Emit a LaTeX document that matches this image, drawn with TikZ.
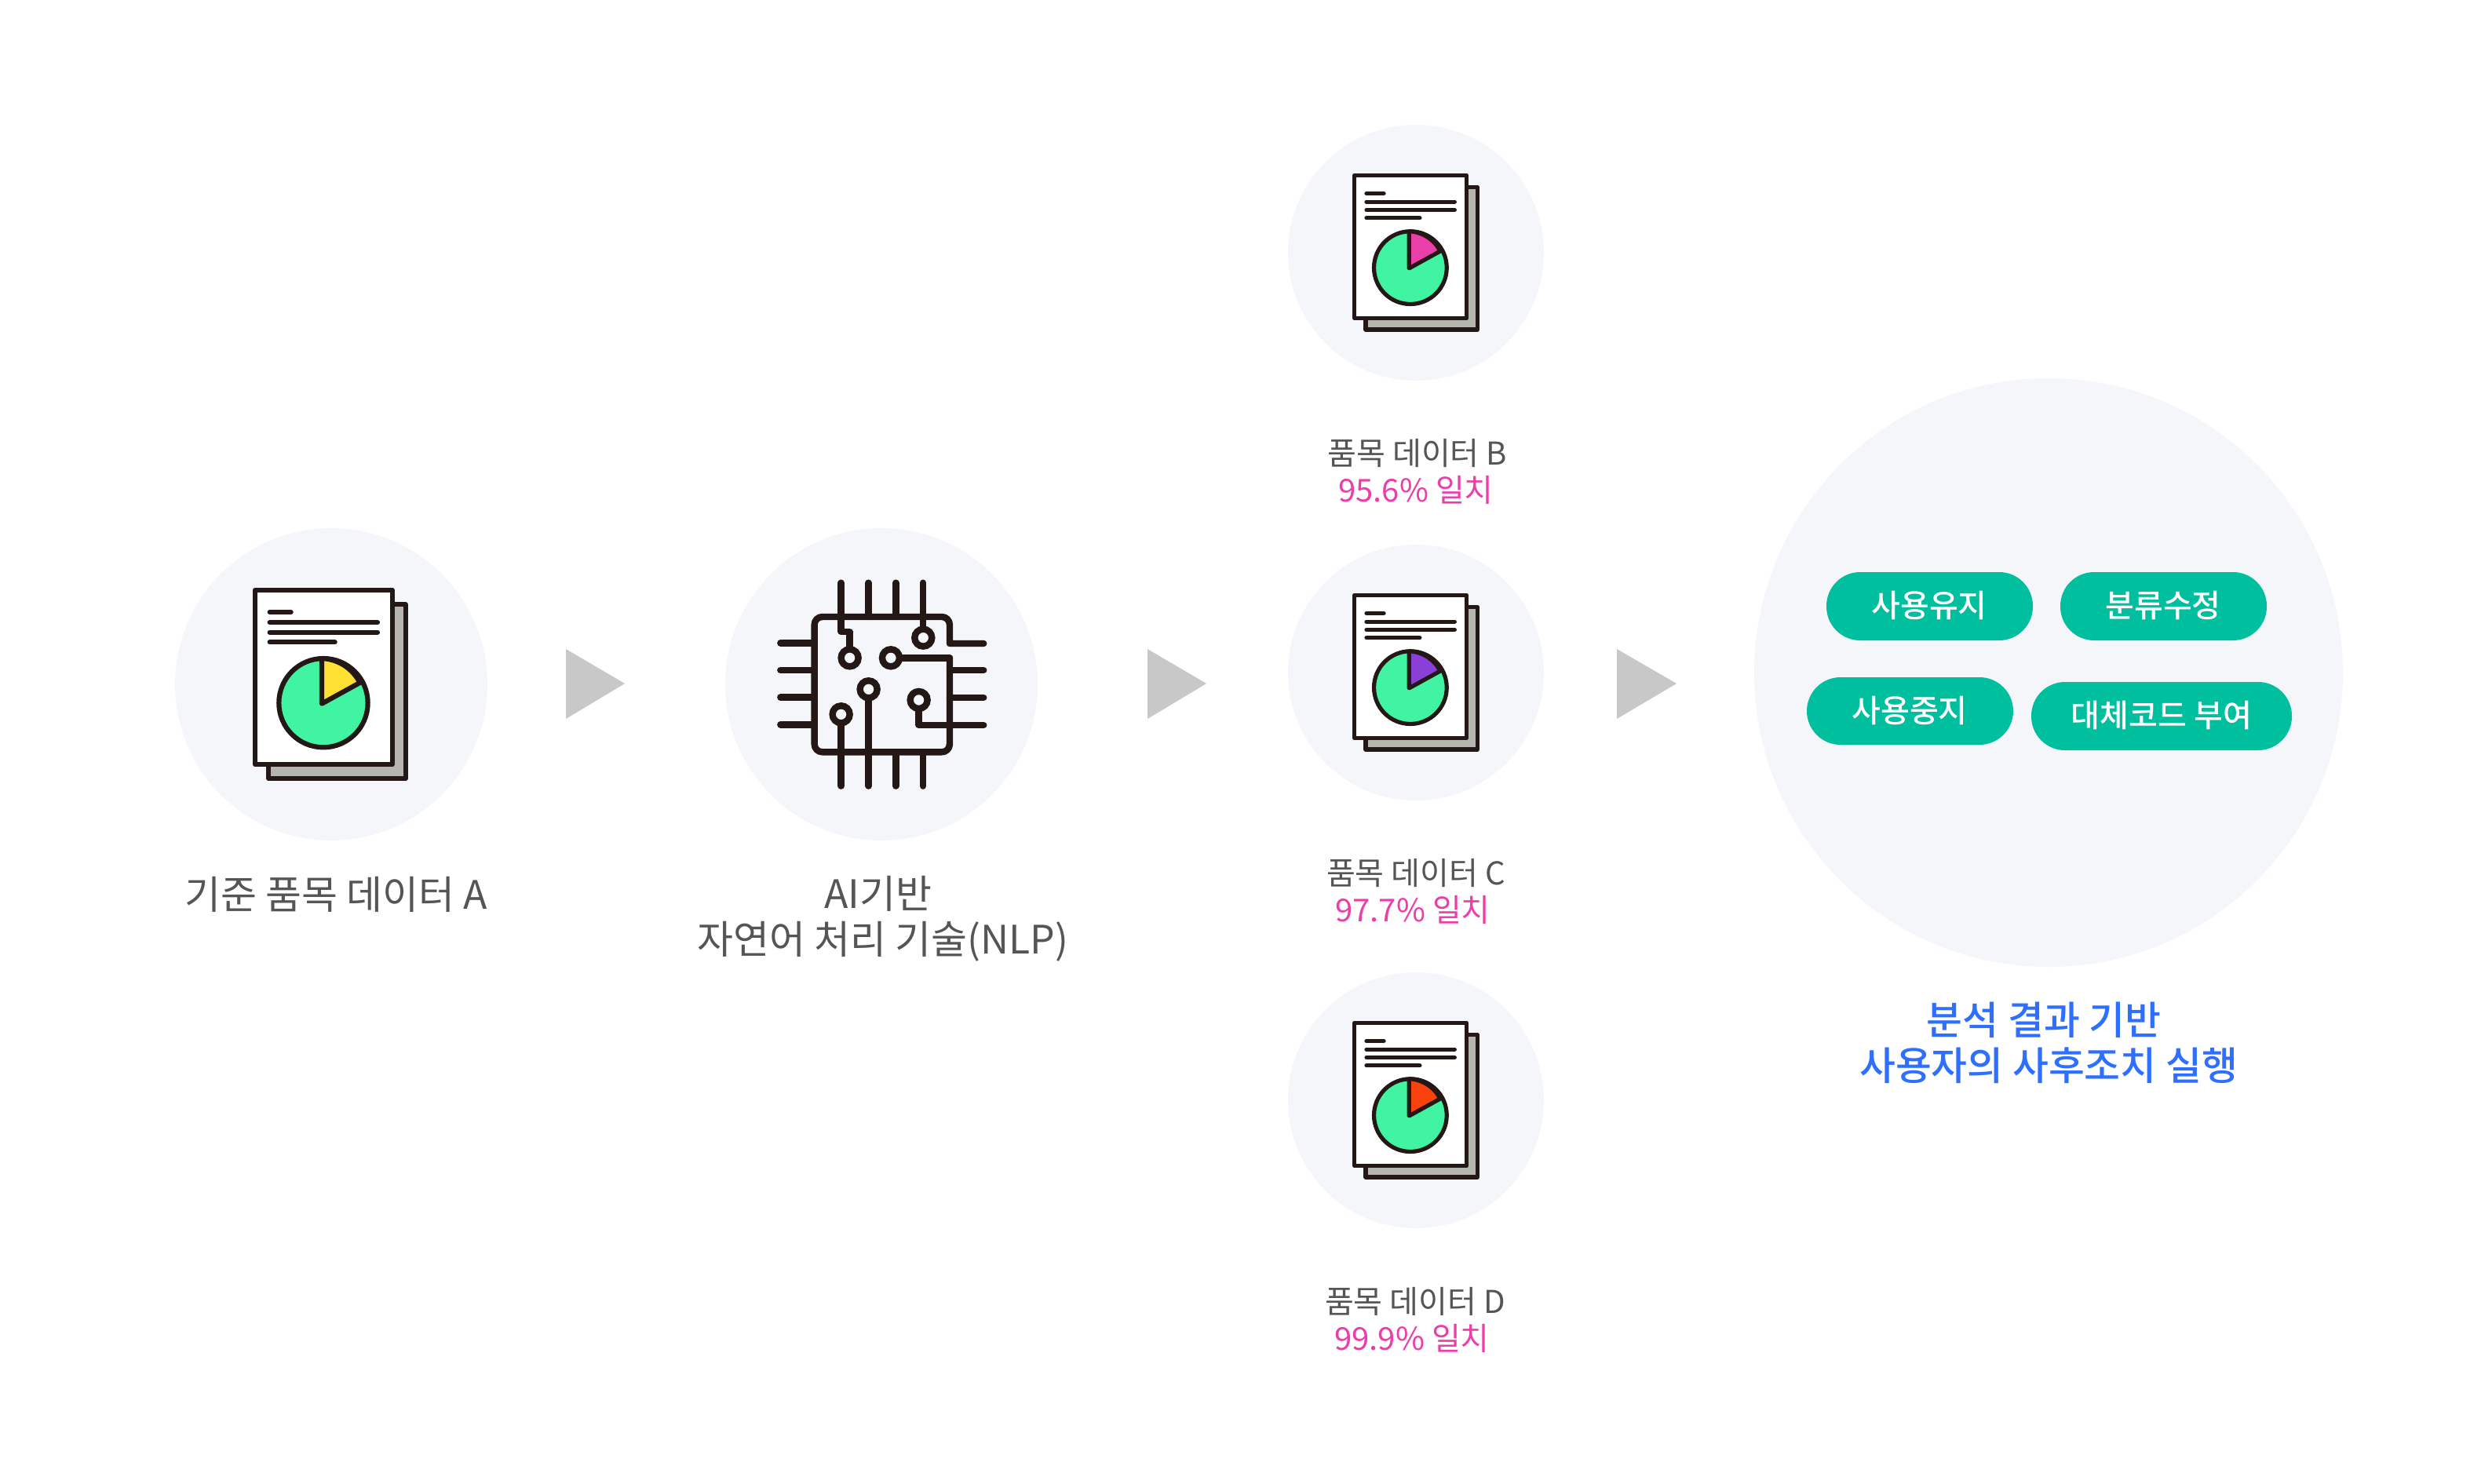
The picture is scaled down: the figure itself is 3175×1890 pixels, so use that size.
\documentclass[tikz,border=0pt]{standalone}
\usepackage{fontspec}
\setmainfont{Noto Sans CJK KR}
\newfontfamily\medfont{Noto Sans CJK KR Medium}
\definecolor{bgc}{HTML}{F4F6FA}
\definecolor{ink}{HTML}{231815}
\definecolor{pale}{HTML}{B5B6B0}
\definecolor{mint}{HTML}{40F4A2}
\definecolor{pill}{HTML}{00BF9F}
\definecolor{arrowc}{HTML}{C8C8C8}
\definecolor{txt}{HTML}{555555}
\definecolor{pinktxt}{HTML}{EE3DA8}
\definecolor{bluetxt}{HTML}{2F6FFF}
\definecolor{wy}{HTML}{FDE032}
\definecolor{wp}{HTML}{EA3FA8}
\definecolor{wv}{HTML}{8A3FD8}
\definecolor{wr}{HTML}{F8430F}
\newlength{\pxu}\setlength{\pxu}{0.01cm}
\tikzset{
  blob/.style={fill=bgc,draw=none},
  tri/.style={fill=arrowc,draw=none},
  ln/.style={draw=ink,line join=round,line cap=round},
  lbl/.style={text=txt,align=center,inner sep=0pt,font=\fontsize{14.2pt}{16.6pt}\selectfont},
  lblsm/.style={text=txt,align=center,inner sep=0pt,font=\fontsize{11.4pt}{13.5pt}\selectfont},
  lblblue/.style={text=bluetxt,align=center,inner sep=0pt,font=\medfont\fontsize{14.2pt}{16.6pt}\selectfont},
  pilltxt/.style={text=white,inner sep=0pt,font=\medfont\fontsize{11.4pt}{13pt}\selectfont},
  pillbox/.style={fill=pill,draw=none,rounded corners=43\pxu},
}
% x y scale linewidth(px) wedgecolor
\newcommand{\docicon}[5]{%
\begin{scope}[shift={(#1,#2)},x=#3\pxu,y=-#3\pxu,line width=#4\pxu]
 \draw[ln,fill=pale] (52,56) rectangle (575,721);
 \draw[ln,fill=white] (0,0) rectangle (524,668);
 \foreach \ya/\xb in {85/137,124/468,162/468,200/305}{\draw[ln] (56,\ya) -- (\xb,\ya);}
 \fill[mint,draw=ink] (261,432) circle[radius=170];
 \draw[ln,fill=#5] (255,435) -- (255,262) arc[start angle=-88,end angle=-27,radius=170] -- cycle;
\end{scope}}
\begin{document}
\begin{tikzpicture}[x=0.01cm,y=-0.01cm]
\useasboundingbox (0,0) rectangle (3175,1890);
\fill[white] (0,0) rectangle (3175,1890);
% circles
\fill[blob] (422,872) circle[radius=199];
\fill[blob] (1123,872) circle[radius=199];
\fill[blob] (1804,322) circle[radius=163];
\fill[blob] (1804,857) circle[radius=163];
\fill[blob] (1804,1402) circle[radius=163];
\fill[blob] (2610,857) circle[radius=375];
% triangles
\fill[tri] (721,827) -- (796,871) -- (721,916) -- cycle;
\fill[tri] (1462,827) -- (1537,871) -- (1462,916) -- cycle;
\fill[tri] (2060,827) -- (2136,871) -- (2060,916) -- cycle;
% doc icons
\docicon{325}{751.7}{0.3333}{6.2}{wy}
\docicon{1725.7}{223.3}{0.2728}{5.2}{wp}
\docicon{1725.7}{758.3}{0.2728}{5.2}{wv}
\docicon{1725.7}{1303.3}{0.2728}{5.2}{wr}
% chip
\begin{scope}[shift={(900,650)},x=0.3333\pxu,y=-0.3333\pxu,line width=8.4\pxu]
 \foreach \yy in {508,612,716,820}{\draw[ln] (283,\yy) -- (413,\yy);}
 \foreach \yy in {612,717,822}{\draw[ln] (930,\yy) -- (1060,\yy);}
 \foreach \xx in {619,724}{\draw[ln] (\xx,278) -- (\xx,408);}
 \foreach \xx in {724,828}{\draw[ln] (\xx,925) -- (\xx,1055);}
 \draw[ln] (930,565) -- (930,895) arc[start angle=0,end angle=90,radius=30] -- (443,925) arc[start angle=90,end angle=180,radius=30] -- (413,438) arc[start angle=180,end angle=270,radius=30] -- (900,408) arc[start angle=-90,end angle=0,radius=30] -- (930,510) -- (1060,510);
 \draw[ln] (515,278) -- (515,465) -- (548,465) -- (548,535);
 \draw[ln] (828,278) -- (828,455);
 \draw[ln] (740,565) -- (930,565);
 \draw[ln] (620,715) -- (620,1055);
 \draw[ln] (515,815) -- (515,1055);
 \draw[ln] (812,760) -- (812,822) -- (930,822);
 \foreach \cx/\cy in {548/565,829/488,705/565,620/685,515/781,812/726}{\draw[draw=ink,fill=bgc] (\cx,\cy) circle[radius=33];}
\end{scope}
% labels
\node[lbl] (la) at (428,1140) {기준 품목 데이터 A};
\node[lbl] (lb) at (1125,1171) {AI기반\hspace*{3.4pt}\\자연어 처리 기술(NLP)};
\node[lblsm] (l1) at (1804,601) {\hspace*{1pt}품목 데이터 B\\\textcolor{pinktxt}{95.6\% 일치}};
\node[lblsm] (l2) at (1800,1136) {\hspace*{2.3pt}품목 데이터 C\\\textcolor{pinktxt}{97.7\% 일치}};
\node[lblsm] (l3) at (1799,1682) {\hspace*{2.3pt}품목 데이터 D\\\textcolor{pinktxt}{99.9\% 일치}};
\node[lblblue] (lr) at (2610,1329) {분석 결과 기반\hspace*{3.4pt}\\사용자의 사후조치 실행};
% pills
\fill[pillbox] (2327,729) rectangle (2590,816);
\fill[pillbox] (2625,729) rectangle (2888,816);
\fill[pillbox] (2302,863) rectangle (2565,949);
\fill[pillbox] (2588,869) rectangle (2920,956);
\node[pilltxt] (pa) at (2458,771) {사용유지};
\node[pilltxt] (pb) at (2756,771) {분류수정};
\node[pilltxt] (pc) at (2433,905) {사용중지};
\node[pilltxt] (pd) at (2754,911) {대체코드 부여};
\end{tikzpicture}
\end{document}
